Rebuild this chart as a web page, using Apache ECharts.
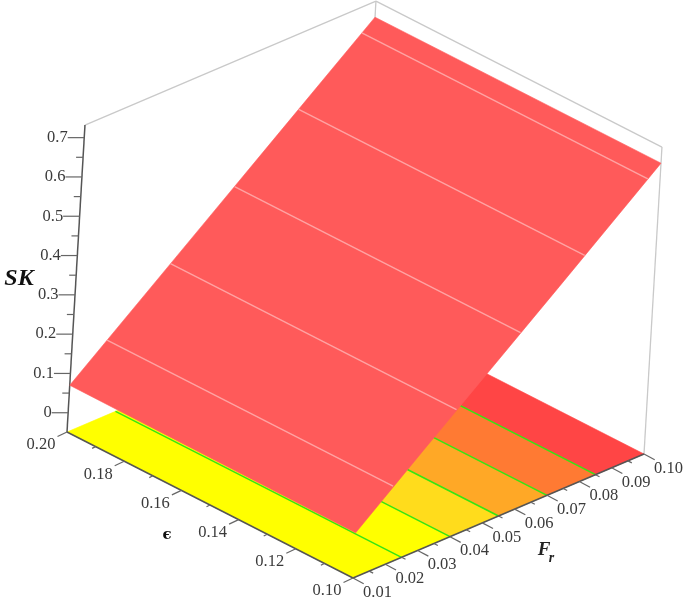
<!DOCTYPE html>
<html><head><meta charset="utf-8">
<style>html,body{margin:0;padding:0;background:#fff}#c{width:685px;height:601px}</style>
<script src="https://cdn.jsdelivr.net/npm/echarts@6/dist/echarts.min.js"></script>
</head><body><div id="c"></div>
<script>
// ---- values ----
const frTicks = ['0.01','0.02','0.03','0.04','0.05','0.06','0.07','0.08','0.09','0.10'];
const epsTicks = ['0.10','0.12','0.14','0.16','0.18','0.20'];
const skTicks = ['0','0.1','0.2','0.3','0.4','0.5','0.6','0.7'];
const floorBandEdges = [0.01,0.025,0.04,0.055,0.07,0.085,0.10];
const floorBandColors = ['#ffff00','#ffff00','#ffdc1c','#ffa826','#ff7a33','#ff4545'];
const floorContourFr = [0.025,0.04,0.055,0.07,0.085];
const surfaceFr = [0.01,0.03,0.05,0.07,0.10];
const surfaceEps = [0.10,0.20];
const surfaceSkAtEps010 = [0.066,0.206,0.344,0.482,0.691];
const surfaceSkAtEps020 = [0.070,0.208,0.346,0.484,0.691];
const surfaceContourFr = [0.021,0.0397,0.0586,0.0775,0.0961];
const surfaceContourSk = [0.146,0.275,0.405,0.535,0.665];

// ---- axis ranges ----
const FR0=0.01, FR1=0.10, EPS0=0.10, EPS1=0.20, SK0=-0.049, SK1=0.732;

// ---- the 3-D view: data -> plane of the hidden 2-D axes ----
function project(fr,eps,sk){
  const u=(fr-FR0)/(FR1-FR0), v=(eps-EPS0)/(EPS1-EPS0), w=sk-SK0;
  return [353+291*u-286*v+23*w, 578-124*u-146*v-393*w];
}
const seg=(a,b,style)=>[a[0],a[1],b[0],b[1],style];
const lineStyles=[
 {stroke:'#c9c9c9',lineWidth:1.3},
 {stroke:'#555555',lineWidth:1.5},
 {stroke:'#666666',lineWidth:1.2},
 {stroke:'#35e612',lineWidth:1.5},
 {stroke:'#ffa3a3',lineWidth:1.4}
];
function lineSeries(name,z,rows){
  return {type:'custom',name,coordinateSystem:'cartesian2d',z,clip:false,silent:true,
    data:rows,encode:{x:[0,2],y:[1,3]},
    renderItem(p,api){
      const a=api.coord([api.value(0),api.value(1)]), b=api.coord([api.value(2),api.value(3)]);
      return {type:'line',shape:{x1:a[0],y1:a[1],x2:b[0],y2:b[1]},style:lineStyles[api.value(4)]};
    }};
}
function polySeries(name,z,polys,colors){
  return {type:'custom',name,coordinateSystem:'cartesian2d',z,clip:false,silent:true,
    data:polys.map((q,i)=>[q[0][0],q[0][1],i]),encode:{x:0,y:1},
    renderItem(p,api){
      const i=p.dataIndex;
      return {type:'polygon',shape:{points:polys[i].map(c=>api.coord(c))},
        style:{fill:colors[i],stroke:colors[i],lineWidth:0.6}};
    }};
}
function textSeries(name,z,items){
  return {type:'custom',name,coordinateSystem:'cartesian2d',z,clip:false,silent:true,
    data:items.map(t=>[t.x,t.y]),encode:{x:0,y:1},
    renderItem(p,api){
      const t=items[p.dataIndex], c=api.coord([api.value(0),api.value(1)]);
      return {type:'text',x:c[0],y:c[1],style:{text:t.text,font:t.font,fill:t.fill||'#3a3a3a',
        align:t.align||'center',verticalAlign:'middle'}};
    }};
}

// floor bands
const floorPolys=floorBandColors.map((_,i)=>{
  const a=floorBandEdges[i], b=floorBandEdges[i+1];
  return [project(a,EPS0,SK0),project(b,EPS0,SK0),project(b,EPS1,SK0),project(a,EPS1,SK0)];
});
const floorLines=floorContourFr.map(f=>seg(project(f,EPS0,SK0),project(f,EPS1,SK0),3));
// surface: one outline through both rows of the grid, so no seams show
const surfOutline=[
  ...surfaceFr.map((f,i)=>project(f,surfaceEps[0],surfaceSkAtEps010[i])),
  ...surfaceFr.map((f,i)=>project(f,surfaceEps[1],surfaceSkAtEps020[i])).reverse()
];
const surfPolys=[surfOutline], surfColors=['#ff5a5a'];
const surfLines=surfaceContourFr.map((f,i)=>seg(project(f,EPS0,surfaceContourSk[i]),project(f,EPS1,surfaceContourSk[i]),4));
// box
const boxLines=[
  seg(project(FR0,EPS1,SK1),project(FR1,EPS1,SK1),0),
  seg(project(FR1,EPS1,SK1),project(FR1,EPS0,SK1),0),
  seg(project(FR1,EPS0,SK1),project(FR1,EPS0,SK0),0),
  seg(project(FR1,EPS1,SK1),project(FR1,EPS1,SK0),0)
];
// axes + ticks
const axisLines=[
  seg(project(FR0,EPS1,SK0),project(FR0,EPS1,SK1),1),
  seg(project(FR0,EPS1,SK0),project(FR0,EPS0,SK0),1),
  seg(project(FR0,EPS0,SK0),project(FR1,EPS0,SK0),1)
];
const tickLines=[], labels=[];
const FONT='16.5px "Liberation Serif"';
const off=(p,dx,dy)=>[p[0]+dx,p[1]+dy];
frTicks.forEach((t,i)=>{
  const f=+t, p=project(f,EPS0,SK0);
  tickLines.push(seg(p,off(p,10.7,5.7),2));
  labels.push({text:t,x:p[0]+24.5,y:p[1]+14.5,font:FONT});
  if(i<frTicks.length-1){const m=project(f+0.005,EPS0,SK0);tickLines.push(seg(m,off(m,4,2),2));}
});
epsTicks.forEach((t,i)=>{
  const e=+t, p=project(FR0,e,SK0);
  tickLines.push(seg(p,off(p,-9.5,4.5),2));
  labels.push({text:t,x:p[0]-26,y:p[1]+13,font:FONT});
  if(i<epsTicks.length-1){const m=project(FR0,e+0.01,SK0);tickLines.push(seg(m,off(m,-3.5,1.8),2));}
});
skTicks.forEach((t,i)=>{
  const s=+t, p=project(FR0,EPS1,s);
  tickLines.push(seg(p,off(p,-16.5,0),2));
  labels.push({text:t,x:p[0]-16.5,y:p[1],font:FONT,align:'right'});
  if(i<skTicks.length-1){const m=project(FR0,EPS1,s+0.05);tickLines.push(seg(m,off(m,-7,0),2));}
});
const titles=[
  {text:'SK',x:19,y:279,font:'italic bold 24px "Liberation Serif"',fill:'#111'},
  {text:'\u03F5',x:167,y:535,font:'bold 15px "DejaVu Serif"',fill:'#111'},
  {text:'F',x:544,y:550,font:'italic bold 19px "Liberation Serif"',fill:'#222'},
  {text:'r',x:551.5,y:558,font:'italic bold 14px "Liberation Serif"',fill:'#222'}
];

const chart=echarts.init(document.getElementById('c'),null,{renderer:'canvas'});
chart.setOption({
  animation:false,backgroundColor:'#fff',tooltip:{show:false},
  grid:{left:0,right:0,top:0,bottom:0},
  xAxis:{type:'value',min:0,max:685,show:false},
  yAxis:{type:'value',min:0,max:601,inverse:true,show:false},
  series:[
    lineSeries('box',1,boxLines),
    polySeries('floor',2,floorPolys,floorBandColors),
    lineSeries('floorContours',3,floorLines),
    lineSeries('axes',4,axisLines),
    lineSeries('ticks',4,tickLines),
    polySeries('surface',5,surfPolys,surfColors),
    lineSeries('surfaceContours',6,surfLines),
    textSeries('tickLabels',7,labels),
    textSeries('titles',7,titles)
  ]
});
</script></body></html>
